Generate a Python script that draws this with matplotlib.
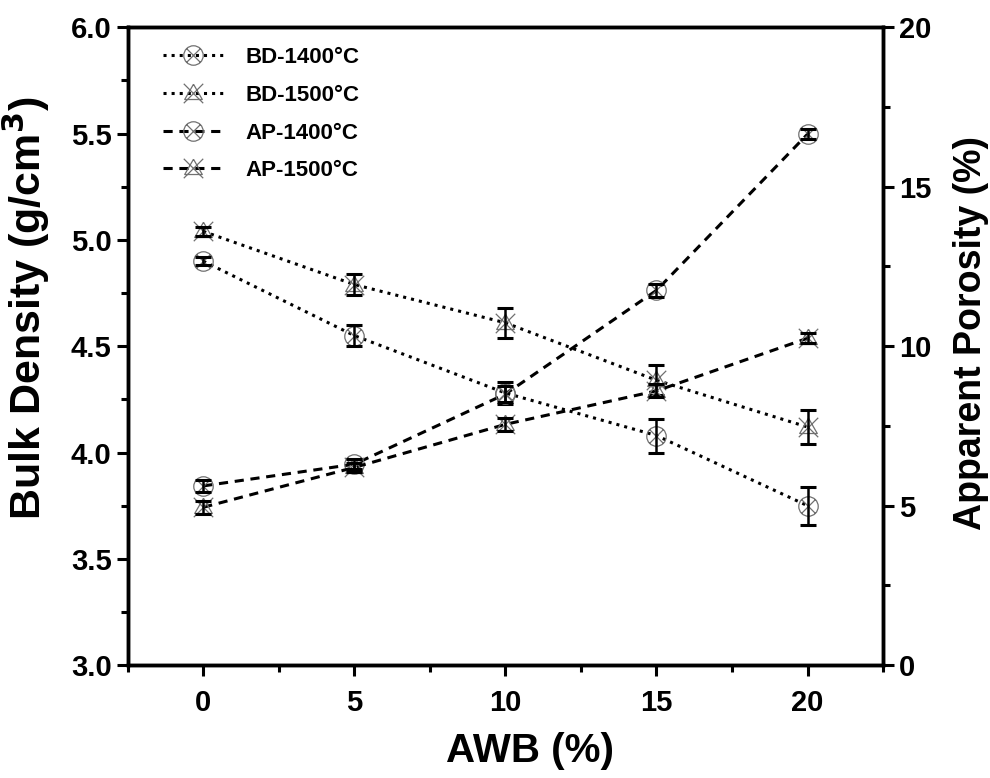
import numpy as np
import matplotlib
matplotlib.use('Agg')
import matplotlib.pyplot as plt
from matplotlib.path import Path
from matplotlib.ticker import MultipleLocator

plt.rcParams['font.family'] = 'Liberation Sans'
plt.rcParams['font.weight'] = 'bold'

# AWB content (%)
awb = [0, 5, 10, 15, 20]

# Bulk density (g/cm3), left axis
bd_1400 = [4.90, 4.55, 4.28, 4.08, 3.75]
bd_1400_err = [0.02, 0.05, 0.05, 0.08, 0.09]
bd_1500 = [5.04, 4.79, 4.61, 4.34, 4.12]
bd_1500_err = [0.02, 0.05, 0.07, 0.07, 0.08]

# Apparent porosity (%), right axis
ap_1400 = [5.62, 6.30, 8.50, 11.75, 16.65]
ap_1400_err = [0.20, 0.15, 0.25, 0.20, 0.15]
ap_1500 = [4.95, 6.20, 7.55, 8.60, 10.25]
ap_1500_err = [0.20, 0.15, 0.20, 0.20, 0.15]

labels = ['BD-1400°C', 'BD-1500°C', 'AP-1400°C', 'AP-1500°C']

# open marker shapes: circle with a cross, triangle with a cross
M, L = Path.MOVETO, Path.LINETO
cross = Path([(-1.05, -1.05), (1.05, 1.05), (-1.05, 1.05), (1.05, -1.05)], [M, L, M, L])
circ_x = Path.make_compound_path(Path.unit_circle(),
                                 Path([(-0.71, -0.71), (0.71, 0.71), (-0.71, 0.71), (0.71, -0.71)], [M, L, M, L]))
tri = Path([(0, 1.0), (-0.95, -0.65), (0.95, -0.65), (0, 1.0)], [M, L, L, L])
tri_x = Path.make_compound_path(tri, cross)

fig = plt.figure(figsize=(9.9, 7.78), dpi=100)
ax = fig.add_axes([0.129, 0.145, 0.763, 0.82])
ax2 = ax.twinx()

mk = dict(markersize=14, markerfacecolor='none', markeredgecolor='#707070',
          markeredgewidth=0.9, color='black', linewidth=2.2)
eb = dict(fmt='none', ecolor='black', elinewidth=1.8, capsize=6, capthick=2.2, zorder=5)

h1, = ax.plot(awb, bd_1400, linestyle=':', marker=circ_x, label=labels[0], **mk)
ax.errorbar(awb, bd_1400, yerr=bd_1400_err, **eb)
h2, = ax.plot(awb, bd_1500, linestyle=':', marker=tri_x, label=labels[1], **mk)
ax.errorbar(awb, bd_1500, yerr=bd_1500_err, **eb)
h3, = ax2.plot(awb, ap_1400, linestyle=(0, (3, 2.2)), marker=circ_x, label=labels[2], **mk)
ax2.errorbar(awb, ap_1400, yerr=ap_1400_err, **eb)
h4, = ax2.plot(awb, ap_1500, linestyle=(0, (3, 2.2)), marker=tri_x, label=labels[3], **mk)
ax2.errorbar(awb, ap_1500, yerr=ap_1500_err, **eb)

ax.set_xlim(-2.5, 22.5)
ax.set_ylim(3.0, 6.0)
ax2.set_ylim(0, 20)
ax.xaxis.set_major_locator(MultipleLocator(5))
ax.xaxis.set_minor_locator(MultipleLocator(2.5))
ax.yaxis.set_major_locator(MultipleLocator(0.5))
ax.yaxis.set_minor_locator(MultipleLocator(0.25))
ax2.yaxis.set_major_locator(MultipleLocator(5))
ax2.yaxis.set_minor_locator(MultipleLocator(2.5))
ax.set_yticks(np.arange(3.0, 6.01, 0.5))
ax.set_yticklabels(['%.1f' % v for v in np.arange(3.0, 6.01, 0.5)])

for a in (ax, ax2):
    for s in a.spines.values():
        s.set_linewidth(2.5)
    a.tick_params(which='major', direction='out', length=8, width=2.2, labelsize=21)
    a.tick_params(which='minor', direction='out', length=5, width=2.2)
ax.tick_params(axis='x', pad=9)

ax.set_xlabel('AWB (%)', fontsize=29, fontweight='bold')
ax.set_ylabel('Bulk Density (g/cm$^\\mathbf{3}$)', fontsize=31, fontweight='bold')
ax2.set_ylabel('Apparent Porosity (%)', fontsize=27, fontweight='bold')
ax.xaxis.set_label_coords(0.532, -0.105)
ax.yaxis.set_label_coords(-0.10, 0.56)
ax2.yaxis.set_label_coords(1.093, 0.52)

ax.legend([h1, h2, h3, h4], labels, loc='upper left', frameon=False, fontsize=16,
          handlelength=2.7, handletextpad=1.0, labelspacing=0.75,
          bbox_to_anchor=(0.02, 1.0))

fig.savefig('out.png', dpi=100)
